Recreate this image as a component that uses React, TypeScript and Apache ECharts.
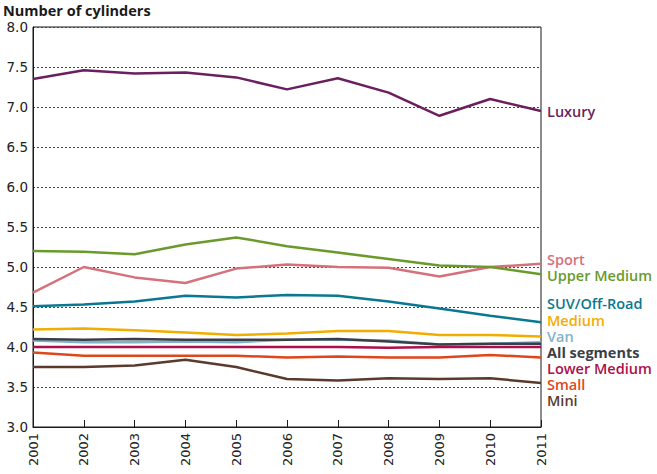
import React, { useEffect, useRef } from "react";
import * as echarts from "echarts";

const years = ["2001", "2002", "2003", "2004", "2005", "2006", "2007", "2008", "2009", "2010", "2011"];

const luxury = [7.35, 7.46, 7.42, 7.43, 7.37, 7.22, 7.36, 7.18, 6.89, 7.10, 6.95];
const upperMedium = [5.20, 5.19, 5.16, 5.28, 5.37, 5.26, 5.18, 5.10, 5.02, 5.00, 4.91];
const sport = [4.68, 5.00, 4.87, 4.80, 4.98, 5.03, 5.00, 4.99, 4.88, 5.00, 5.04];
const suv = [4.51, 4.53, 4.57, 4.64, 4.62, 4.65, 4.64, 4.57, 4.48, 4.39, 4.31];
const medium = [4.22, 4.23, 4.21, 4.18, 4.15, 4.17, 4.20, 4.20, 4.15, 4.15, 4.13];
const van = [4.08, 4.06, 4.06, 4.07, 4.06, 4.09, 4.09, 4.08, 4.03, 4.04, 4.06];
const allSegments = [4.10, 4.09, 4.10, 4.09, 4.09, 4.09, 4.10, 4.07, 4.03, 4.04, 4.04];
const lowerMedium = [4.00, 4.00, 4.00, 4.00, 4.00, 4.00, 4.00, 3.99, 4.00, 4.00, 4.00];
const small = [3.93, 3.89, 3.89, 3.89, 3.89, 3.87, 3.88, 3.87, 3.87, 3.90, 3.87];
const mini = [3.75, 3.75, 3.77, 3.84, 3.75, 3.60, 3.58, 3.61, 3.60, 3.61, 3.55];

const seriesDefs = [
  { name: "Mini", data: mini, color: "#5b3a2c", labelY: 400, bold: false },
  { name: "Small", data: small, color: "#e0461c", labelY: 384, bold: false },
  { name: "Lower Medium", data: lowerMedium, color: "#ad0f4b", labelY: 368, bold: false },
  { name: "Van", data: van, color: "#7fb3c8", labelY: 336, bold: false },
  { name: "All segments", data: allSegments, color: "#3a3e48", labelY: 352, bold: true },
  { name: "Medium", data: medium, color: "#f3ad00", labelY: 320, bold: false },
  { name: "SUV/Off-Road", data: suv, color: "#0a7891", labelY: 303, bold: false },
  { name: "Sport", data: sport, color: "#d4717b", labelY: 259, bold: false },
  { name: "Upper Medium", data: upperMedium, color: "#6a9a2c", labelY: 275, bold: false },
  { name: "Luxury", data: luxury, color: "#6b1f5f", labelY: 111, bold: false },
];

const FONT = "'Open Sans', 'DejaVu Sans', sans-serif";
const AXIS_FONT = "'DejaVu Sans', sans-serif";

export default function App() {
  const ref = useRef<HTMLDivElement>(null);
  useEffect(() => {
    if (!ref.current) return;
    const chart = echarts.init(ref.current, undefined, { renderer: "svg" });
    chart.setOption({
      animation: false,
      backgroundColor: "#ffffff",
      grid: {
        left: 33,
        right: 116,
        top: 27,
        bottom: 47,
        show: true,
        borderColor: "#1a1a1a",
        borderWidth: 1,
        backgroundColor: "transparent",
      },
      xAxis: {
        type: "category",
        data: years,
        boundaryGap: false,
        axisLine: { show: true, lineStyle: { color: "#1a1a1a", width: 1 } },
        axisTick: { show: true, inside: true, length: 7, lineStyle: { color: "#1a1a1a" } },
        axisLabel: {
          rotate: 90,
          margin: 6,
          color: "#222",
          fontSize: 13,
          fontFamily: AXIS_FONT,
        },
        splitLine: { show: false },
      },
      yAxis: {
        type: "value",
        min: 3,
        max: 8,
        interval: 0.5,
        axisLine: { show: true, lineStyle: { color: "#1a1a1a", width: 1 } },
        axisTick: { show: false },
        axisLabel: {
          margin: 5,
          color: "#222",
          fontSize: 13.5,
          fontFamily: AXIS_FONT,
          formatter: (v: number) => v.toFixed(1),
        },
        splitLine: { show: true, lineStyle: { color: "#444", type: [2, 2], width: 1 } },
      },
      series: seriesDefs.map((s) => ({
        name: s.name,
        type: "line",
        data: s.data,
        symbol: "none",
        lineStyle: { color: s.color, width: 2.5 },
        itemStyle: { color: s.color },
      })),
      graphic: [
        {
          type: "text",
          x: 3,
          y: 10,
          style: {
            text: "Number of cylinders",
            fill: "#1a1a1a",
            fontSize: 14.5,
            fontWeight: "bold",
            fontFamily: FONT,
            verticalAlign: "middle",
          },
        },
        ...seriesDefs.map((s) => ({
          type: "text",
          x: 547,
          y: s.labelY,
          style: {
            text: s.name,
            fill: s.color,
            fontSize: 14.5,
            lineHeight: 15,
            fontWeight: s.bold ? "bold" : 600,
            fontFamily: FONT,
            verticalAlign: "middle",
          },
        })),
      ],
    });
    return () => chart.dispose();
  }, []);
  return (
    <div
      ref={ref}
      style={{ position: "fixed", left: 0, top: 0, width: 657, height: 474 }}
    />
  );
}
